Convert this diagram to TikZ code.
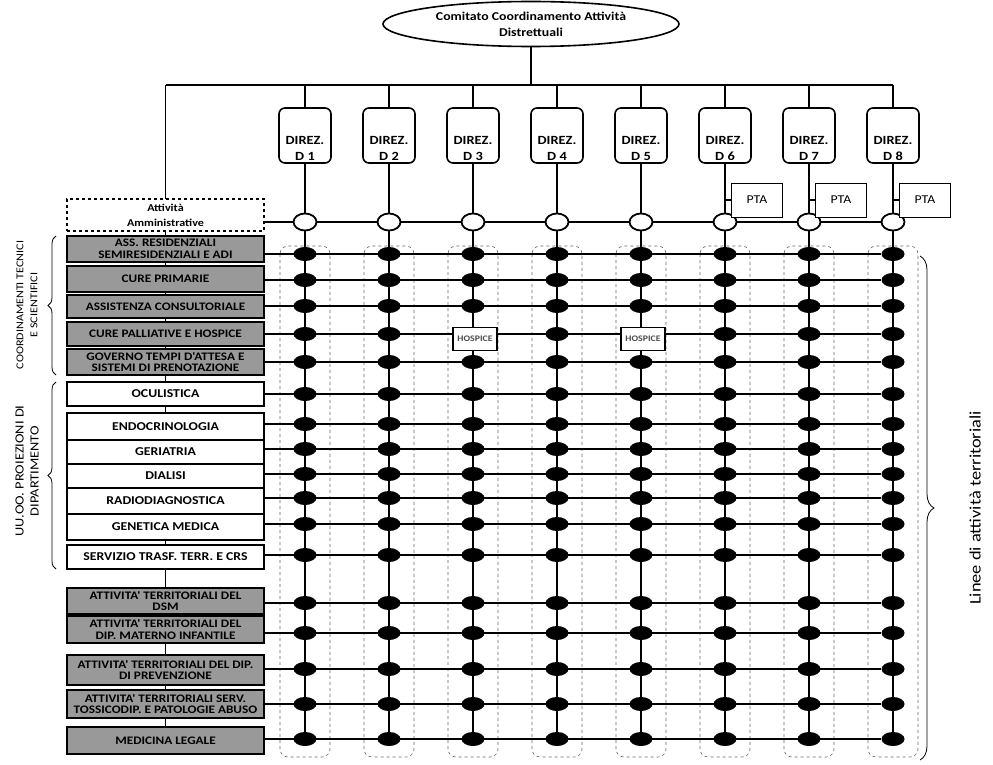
\documentclass[tikz,border=0pt]{standalone}
\usepackage{fontspec}
\setmainfont{Carlito}
\newfontfamily\diag[FakeStretch=1.15]{Carlito}
\usetikzlibrary{shapes.geometric, decorations.pathreplacing, backgrounds, calc}

\begin{document}
\begin{tikzpicture}[x=1pt, y=-1pt,
    unit/.style={draw, line width=1.5pt, fill=white, minimum width=197pt, inner sep=0pt, align=center,
        font=\diag\bfseries\fontsize{12}{12}\selectfont},
    greyunit/.style={unit, fill=black!40, font=\diag\bfseries\fontsize{11.5}{11.5}\selectfont},
    adm/.style={unit, dashed, font=\diag\bfseries\fontsize{10.5}{15}\selectfont},
    direz/.style={draw, line width=1.6pt, rounded corners=6pt, minimum width=52pt, minimum height=55pt,
        inner sep=0pt, fill=white, align=center, font=\diag\bfseries\fontsize{12.5}{13}\selectfont},
    hole/.style={ellipse, draw, line width=1.8pt, fill=white, minimum width=23pt, minimum height=17pt, inner sep=0pt},
    dot/.style={ellipse, fill=black, minimum width=23pt, minimum height=14pt, inner sep=0pt},
    pta/.style={draw, line width=0.8pt, fill=white, minimum width=51pt, minimum height=34pt,
        font=\diag\fontsize{12}{14}\selectfont},
    hosp/.style={draw, line width=1.3pt, fill=white, minimum width=44pt, minimum height=23pt, inner sep=0pt,
        text=black!70, font=\diag\bfseries\fontsize{8.5}{10}\selectfont},
    link/.style={line width=1.1pt},
    colframe/.style={dashed, line width=0.6pt, black!60, rounded corners=8pt},
    brc/.style={decorate, line width=0.8pt},
    side/.style={rotate=90, align=center, font=\diag\fontsize{10.5}{14}\selectfont}]

\useasboundingbox (0,0) rectangle (993,765);

\node[ellipse, draw, line width=1.6pt, minimum width=296pt, minimum height=45pt, align=center,
    font=\diag\bfseries\fontsize{12}{16}\selectfont] (top) at (531,24)
    {Comitato Coordinamento Attività\\Distrettuali};

\foreach \r/\yc/\h/\sty/\txt in {
    1/215/32/adm/{Attività\\Amministrative},
    2/249/26/greyunit/{ASS. RESIDENZIALI\\SEMIRESIDENZIALI E ADI},
    3/279/26/greyunit/{CURE PRIMARIE},
    4/306.5/23/greyunit/{ASSISTENZA CONSULTORIALE},
    5/334/24/greyunit/{CURE PALLIATIVE E HOSPICE},
    6/362/26/greyunit/{GOVERNO TEMPI D'ATTESA E\\SISTEMI DI PRENOTAZIONE},
    7/394/24/unit/{OCULISTICA},
    8/426.5/27/unit/{ENDOCRINOLOGIA},
    9/452/24/unit/{GERIATRIA},
    10/476/24/unit/{DIALISI},
    11/501/26/unit/{RADIODIAGNOSTICA},
    12/527/26/unit/{GENETICA MEDICA},
    13/557/24/unit/{SERVIZIO TRASF. TERR. E CRS},
    14/601/26/greyunit/{ATTIVITA' TERRITORIALI DEL\\DSM},
    15/629.5/27/greyunit/{ATTIVITA' TERRITORIALI DEL\\DIP. MATERNO INFANTILE},
    16/670/30/greyunit/{ATTIVITA' TERRITORIALI DEL DIP.\\DI PREVENZIONE},
    17/704/28/greyunit/{ATTIVITA' TERRITORIALI SERV.\\TOSSICODIP. E PATOLOGIE ABUSO},
    18/740.5/27/greyunit/{MEDICINA LEGALE}}
    \node[\sty, minimum height=\h pt] (r\r) at (165.5,\yc) {\txt};

\foreach \i in {1,...,8} {
    \pgfmathsetmacro\cx{305+84*(\i-1)}
    \node[direz] (d\i) at (\cx,135.5) {\rule{0pt}{34pt}DIREZ.\\[3pt]D \i};
    \node[hole] (c\i-1) at (\cx,222) {};
    \foreach \r/\ry in {2/254, 3/280, 4/306, 5/334, 6/362, 7/394, 8/424, 9/449, 10/474,
        11/498, 12/524, 13/555, 14/603, 15/633, 16/669, 17/704, 18/739}
        \node[dot] (c\i-\r) at (\cx,\ry) {};
    \ifnum\i>5 \node[pta] (p\i) at (\cx+32,200) {PTA}; \fi
}

\node[hosp] (h3) at (475,339) {HOSPICE};
\node[hosp] (h5) at (643,339) {HOSPICE};

\coordinate (busl) at (165.5,85);

\draw[brc, decoration={brace, amplitude=8pt}] (56,375) -- (56,236);
\draw[brc, decoration={brace, amplitude=8pt}] (56,569) -- (56,382);
\draw[brc, decoration={brace, amplitude=14pt}] (920,256) -- (920,760);
\node[side] (lcoord) at (27,305) {COORDINAMENTI TECNICI\\E SCIENTIFICI};
\node[side, font=\diag\fontsize{12.5}{15}\selectfont] (luo) at (27,471) {UU.OO. PROIEZIONI DI\\DIPARTIMENTO};
\node[side, font=\diag\fontsize{16}{18}\selectfont] (lterr) at (975,508) {Linee di attività territoriali};

\begin{scope}[on background layer]
    \draw[link] (top.south) -- (top.south |- busl);
    \draw[link] (busl) -- (busl -| d8.north);
    \draw[link] (busl) -- (r18.north);
    \foreach \i in {1,...,8} {
        \draw[link] (d\i.north) -- (d\i.north |- busl);
        \draw[link] (d\i.south) -- (c\i-18);
        \draw[colframe] ($(c\i-2)+(-25,-8)$) rectangle ($(c\i-18)+(25,18)$);
    }
    \foreach \r in {1,...,18}
        \draw[link] (r\r.east |- c1-\r) -- (c8-\r);
    \foreach \i in {6,7,8}
        \draw[link] (p\i.west) -- (p\i.west -| d\i.south);
\end{scope}
\end{tikzpicture}
\end{document}
